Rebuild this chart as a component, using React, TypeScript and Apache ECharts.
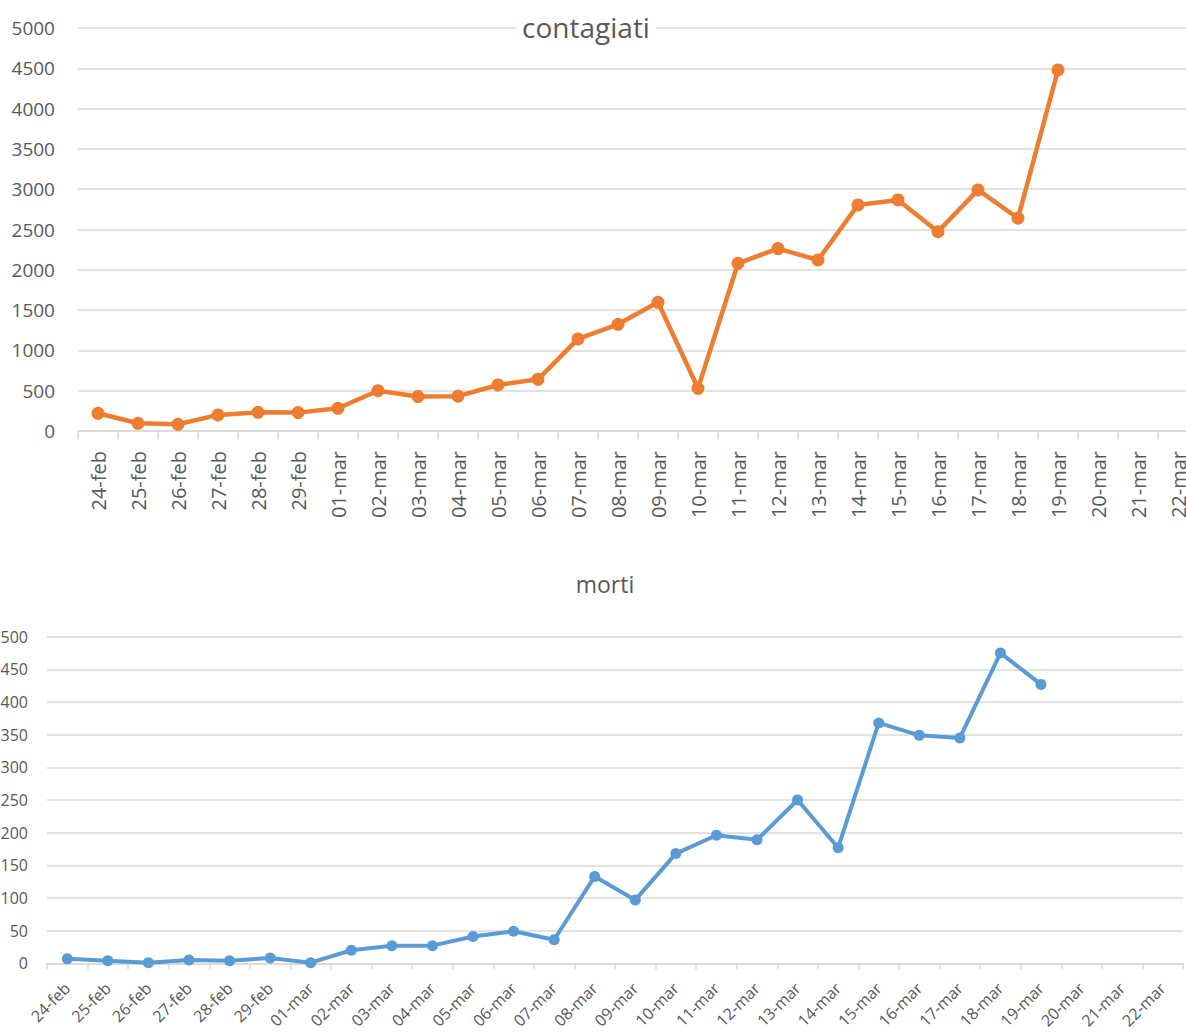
import React, { useEffect, useRef } from "react";
import * as echarts from "echarts";

const categories = [
  "24-feb", "25-feb", "26-feb", "27-feb", "28-feb", "29-feb",
  "01-mar", "02-mar", "03-mar", "04-mar", "05-mar", "06-mar", "07-mar",
  "08-mar", "09-mar", "10-mar", "11-mar", "12-mar", "13-mar", "14-mar",
  "15-mar", "16-mar", "17-mar", "18-mar", "19-mar", "20-mar", "21-mar", "22-mar",
];

const contagiati = [
  220, 96, 83, 200, 232, 228, 282, 500, 428, 432, 571, 641, 1142, 1324,
  1597, 530, 2081, 2263, 2122, 2805, 2867, 2473, 2991, 2640, 4480, null, null, null,
];

const morti = [
  7, 4, 1, 5, 4, 8, 1, 20, 27, 27, 41, 49, 36, 133, 97, 168, 196, 189, 250,
  177, 368, 349, 345, 475, 427, null, null, null,
];

const titles = ["contagiati", "morti"];

const FONT = "'Open Sans', sans-serif";
const TXT = "#595959";
const GRID = "#d9d9d9";

export default function App() {
  const ref = useRef<HTMLDivElement>(null);
  useEffect(() => {
    document.body.style.margin = "0";
    const chart = echarts.init(ref.current!, null, { renderer: "svg" });
    const plain = (v: number) => String(v);
    chart.setOption({
      animation: false,
      backgroundColor: "#fff",
      textStyle: { fontFamily: FONT },
      grid: [
        { left: 78, top: 28, height: 403, right: 2, containLabel: false, outerBoundsMode: "none" },
        { left: 47, top: 636.7, height: 326.6, right: 17, containLabel: false, outerBoundsMode: "none" },
      ],
      graphic: [
        {
          type: "text",
          x: 586,
          y: 27,
          z: 100,
          style: {
            text: titles[0],
            fontFamily: FONT,
            fontSize: 28,
            fill: TXT,
            align: "center",
            verticalAlign: "middle",
            backgroundColor: "#fff",
            padding: [0, 6],
          },
        },
        {
          type: "text",
          x: 605,
          y: 584,
          z: 100,
          style: {
            text: titles[1],
            fontFamily: FONT,
            fontSize: 23,
            fill: TXT,
            align: "center",
            verticalAlign: "middle",
          },
        },
      ],
      xAxis: [
        {
          type: "category",
          gridIndex: 0,
          data: categories,
          boundaryGap: true,
          axisLine: { lineStyle: { color: GRID, width: 1.5 } },
          axisTick: { show: true, length: 8, lineStyle: { color: GRID, width: 1.5 } },
          axisLabel: {
            interval: 0,
            rotate: 90,
            margin: 20,
            color: TXT,
            fontSize: 20,
            fontFamily: FONT,
          },
        },
        {
          type: "category",
          gridIndex: 1,
          data: categories,
          boundaryGap: true,
          axisLine: { lineStyle: { color: GRID, width: 1.5 } },
          axisTick: { show: true, length: 6, lineStyle: { color: GRID, width: 1.5 } },
          axisLabel: {
            interval: 0,
            rotate: 45,
            margin: 22,
            color: TXT,
            fontSize: 16,
            fontFamily: FONT,
          },
        },
      ],
      yAxis: [
        {
          type: "value",
          gridIndex: 0,
          min: 0,
          max: 5000,
          interval: 500,
          axisLine: { show: false },
          axisTick: { show: false },
          splitLine: { lineStyle: { color: GRID, width: 1.5 } },
          axisLabel: { margin: 23, color: TXT, fontSize: 19, fontFamily: FONT, formatter: plain },
        },
        {
          type: "value",
          gridIndex: 1,
          min: 0,
          max: 500,
          interval: 50,
          axisLine: { show: false },
          axisTick: { show: false },
          splitLine: { lineStyle: { color: GRID, width: 1.5 } },
          axisLabel: { margin: 19, color: TXT, fontSize: 16, fontFamily: FONT, formatter: plain },
        },
      ],
      series: [
        {
          type: "line",
          name: titles[0],
          xAxisIndex: 0,
          yAxisIndex: 0,
          data: contagiati,
          symbol: "circle",
          symbolSize: 13,
          lineStyle: { color: "#ED7D31", width: 4.5 },
          itemStyle: { color: "#ED7D31" },
        },
        {
          type: "line",
          name: titles[1],
          xAxisIndex: 1,
          yAxisIndex: 1,
          data: morti,
          symbol: "circle",
          symbolSize: 11,
          lineStyle: { color: "#5B9BD5", width: 4 },
          itemStyle: { color: "#5B9BD5" },
        },
      ],
    });
    return () => chart.dispose();
  }, []);
  return (
    <div style={{ width: 1186, height: 1032, overflow: "hidden" }}>
      <div ref={ref} style={{ width: 1200, height: 1032 }} />
    </div>
  );
}
